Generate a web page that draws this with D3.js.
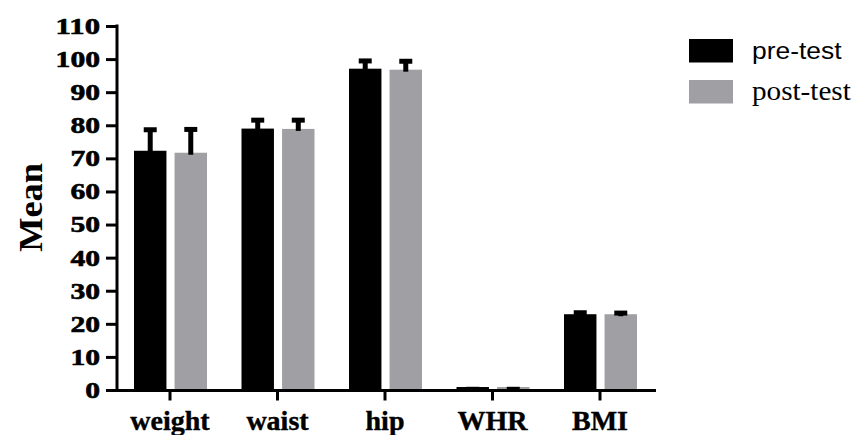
<!DOCTYPE html>
<html>
<head>
<meta charset="utf-8">
<script src="https://cdn.jsdelivr.net/npm/d3@7"></script>
<style>
  body { margin: 0; background: #fff; }
  svg { display: block; }
</style>
</head>
<body>
<svg id="chart"></svg>
<script>
const categories = ["weight", "waist", "hip", "WHR", "BMI"];
const groups = ["pre-test", "post-test"];
const preMeans = [72.3, 79.0, 97.1, 0.9, 22.9];
const preSd = [7.1, 3.3, 3.1, 0.07, 1.2];
const postMeans = [71.7, 78.9, 96.8, 0.9, 22.9];
const postSd = [7.8, 3.4, 3.3, 0.07, 1.1];
const yTicks = [0, 10, 20, 30, 40, 50, 60, 70, 80, 90, 100, 110];

const colors = { "pre-test": "#000000", "post-test": "#a09fa4" };

const w = 862;
const h = 435;
const axisX = 117;
const bandLeft = 116.25;
const bandRight = 653.75;
const plotTop = 26;
const plotBottom = 390;

const serif = "Liberation Serif, Times New Roman, serif";
const sans = "Liberation Sans, Arial, sans-serif";

const svg = d3.select("#chart").attr("width", w).attr("height", h);

const x = d3.scaleBand().domain(categories).range([bandLeft, bandRight]).padding(0);
const x1 = d3.scaleBand().domain(groups).range([-36, 37]).paddingInner(0.2).paddingOuter(0);
const y = d3.scaleLinear().domain([0, 110]).range([plotBottom, plotTop]);

const data = [];
categories.forEach((c, i) => {
  data.push({ cat: c, group: "pre-test", mean: preMeans[i], sd: preSd[i] });
  data.push({ cat: c, group: "post-test", mean: postMeans[i], sd: postSd[i] });
});

const cx = (d) => x(d.cat) + x.bandwidth() / 2;
const barMid = (d) => cx(d) + x1(d.group) + x1.bandwidth() / 2;

// bars
svg.append("g")
  .selectAll("rect")
  .data(data)
  .enter()
  .append("rect")
  .attr("x", (d) => cx(d) + x1(d.group))
  .attr("y", (d) => y(d.mean))
  .attr("width", x1.bandwidth())
  .attr("height", (d) => y(0) - y(d.mean))
  .attr("fill", (d) => colors[d.group]);

// error bars, upper side only
const err = svg.append("g").attr("stroke", "#000");
err.selectAll("line.v")
  .data(data)
  .enter()
  .append("line")
  .attr("class", "v")
  .attr("x1", barMid)
  .attr("x2", barMid)
  .attr("y1", (d) => y(d.mean) + 2)
  .attr("y2", (d) => y(d.mean + d.sd) + 2)
  .attr("stroke-width", 5);
err.selectAll("line.cap")
  .data(data)
  .enter()
  .append("line")
  .attr("class", "cap")
  .attr("x1", (d) => barMid(d) - 6.5)
  .attr("x2", (d) => barMid(d) + 6.5)
  .attr("y1", (d) => y(d.mean + d.sd) + 2.5)
  .attr("y2", (d) => y(d.mean + d.sd) + 2.5)
  .attr("stroke-width", 5);

// y axis
const yAxis = svg.append("g")
  .attr("transform", "translate(" + axisX + ",0)")
  .call(d3.axisLeft(y).tickValues(yTicks).tickSize(11).tickSizeOuter(0));
yAxis.select(".domain").attr("stroke-width", 3).attr("d", "M0," + (plotBottom + 2) + "V" + (plotTop - 1.5));
yAxis.selectAll(".tick line").attr("stroke-width", 3);
yAxis.selectAll(".tick text")
  .attr("font-family", serif)
  .attr("font-weight", "bold")
  .attr("font-size", 23)
  .attr("fill", "#000")
  .attr("stroke", "#000")
  .attr("stroke-width", 0.6)
  .attr("x", -17)
  .attr("dy", "0.32em")
  .attr("textLength", (d) => String(d).length * 14.8)
  .attr("lengthAdjust", "spacingAndGlyphs");

// x axis
const xAxis = svg.append("g")
  .attr("transform", "translate(0," + (plotBottom + 0.5) + ")")
  .call(d3.axisBottom(x).tickSize(10).tickSizeOuter(0).tickPadding(10));
xAxis.select(".domain").attr("stroke-width", 3).attr("d", "M" + (axisX - 1.5) + ",0H" + 656);
xAxis.selectAll(".tick line").attr("stroke-width", 3);
xAxis.selectAll(".tick text")
  .attr("font-family", serif)
  .attr("font-weight", "bold")
  .attr("font-size", 28)
  .attr("fill", "#000")
  .attr("stroke", "#000")
  .attr("stroke-width", 0.4);

// y axis title
svg.append("text")
  .attr("transform", "translate(42,207.5) rotate(-90) scale(1.1,1)")
  .attr("text-anchor", "middle")
  .attr("font-family", serif)
  .attr("font-weight", "bold")
  .attr("font-size", 33)
  .text("Mean");

// legend
const legend = svg.append("g").attr("transform", "translate(689,39)");
const legendFonts = [sans, serif];
const legendSizes = [24, 27];
const legendStretch = [1.1, 1.08];
groups.forEach((g, i) => {
  const row = legend.append("g").attr("transform", "translate(0," + i * 41 + ")");
  row.append("rect").attr("width", 44).attr("height", 23.5).attr("fill", colors[g]);
  row.append("text")
    .attr("transform", "translate(63,19.5) scale(" + legendStretch[i] + ",1)")
    .attr("font-family", legendFonts[i])
    .attr("font-size", legendSizes[i])
    .attr("fill", "#000")
    .text(g);
});
</script>
</body>
</html>
